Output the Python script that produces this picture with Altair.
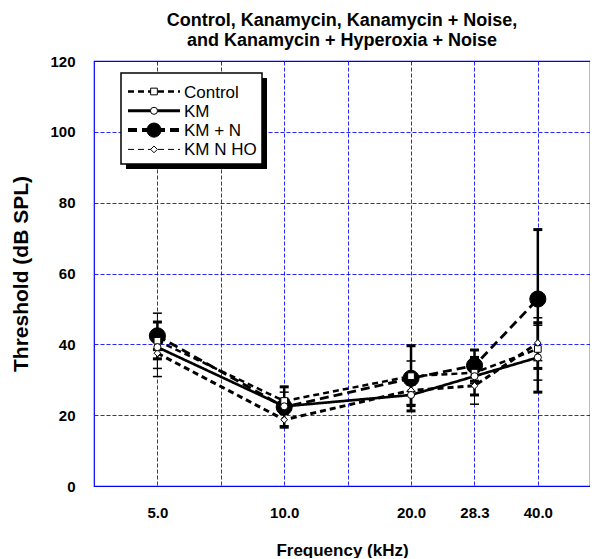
import altair as alt
import pandas as pd
import numpy as np

# ---------------- data ----------------
freqs = [5.0, 10.0, 20.0, 28.3, 40.0]
series = ["Control", "KM", "KM + N", "KM N HO"]

control = [41.0, 24.0, 31.0, 32.0, 38.7]
control_sd = [7.8, 2.5, 4.3, 3.0, 8.8]
km = [39.2, 22.5, 25.7, 31.0, 36.3]
km_sd = [3.3, 2.0, 3.0, 5.3, 9.8]
kmn = [42.4, 22.3, 30.4, 34.0, 52.8]
kmn_sd = [3.9, 5.7, 9.2, 4.4, 19.6]
kmnho = [37.5, 18.7, 27.0, 28.3, 40.4]
kmnho_sd = [6.6, 1.7, 4.0, 5.2, 5.0]

x_ticks = [5.0, 7.0711, 10.0, 14.1421, 20.0, 28.2843, 40.0]
y_ticks = [0, 20, 40, 60, 80, 100, 120]

title_lines = ["Control, Kanamycin, Kanamycin + Noise,",
               "and Kanamycin + Hyperoxia + Noise"]

# ---------------- styles ----------------
dash_range = [[6, 4], [1, 0], [9, 5], [6, 4]]
width_range = [2.5, 3.0, 4.0, 1.0]
err_width = [1.0, 2.5, 2.5, 1.0]
shape_range = ["square", "circle", "circle", "diamond"]
msize_range = [45, 50, 260, 45]
fill_range = ["white", "white", "black", "white"]

FONT = "Liberation Sans"
W, H = 496, 425

vals = [control, km, kmn, kmnho]
sds = [control_sd, km_sd, kmn_sd, kmnho_sd]
rows = []
for s, v, sd in zip(series, vals, sds):
    for f, y, e in zip(freqs, v, sd):
        rows.append({"series": s, "freq": f, "thr": y, "lo": y - e, "hi": y + e})
df = pd.DataFrame(rows)

xscale = alt.Scale(type="log", base=2, domain=[5 / np.sqrt(2), 53.2], nice=False)
yscale = alt.Scale(domain=[0, 120], nice=False)

x_enc = alt.X("freq:Q", scale=xscale,
              axis=alt.Axis(values=x_ticks, title="Frequency (kHz)",
                            labelExpr="(abs(datum.value-7.0711)<0.01 || abs(datum.value-14.1421)<0.01) ? '' : format(datum.value, '.1f')"))
y_enc = alt.Y("thr:Q", scale=yscale,
              axis=alt.Axis(values=y_ticks, title="Threshold (dB SPL)"))

dash_enc = alt.StrokeDash("series:N", scale=alt.Scale(domain=series, range=dash_range), legend=None)
width_enc = alt.StrokeWidth("series:N", scale=alt.Scale(domain=series, range=width_range), legend=None)

base = alt.Chart(df)

lines = base.mark_line(color="black").encode(
    x=x_enc, y=y_enc, strokeDash=dash_enc, strokeWidth=width_enc, detail="series:N"
)

# error bar layers per series (to control stroke width)
err_layers = []
for s, w in zip(series, err_width):
    sub = alt.Chart(df).transform_filter(alt.datum.series == s)
    err_layers.append(sub.mark_rule(color="black", strokeWidth=w).encode(
        x=alt.X("freq:Q", scale=xscale), y=alt.Y("lo:Q", scale=yscale), y2="hi:Q"))
    for end in ["lo", "hi"]:
        err_layers.append(sub.mark_rule(color="black", strokeWidth=w + 0.5, xOffset=-4.5, x2Offset=4.5).encode(
            x=alt.X("freq:Q", scale=xscale), x2="freq:Q", y=alt.Y(f"{end}:Q", scale=yscale)))

point_layers = []
for s in ["KM + N", "Control", "KM N HO", "KM"]:
    i = series.index(s)
    point_layers.append(alt.Chart(df).transform_filter(alt.datum.series == s).mark_point(
        shape=shape_range[i], size=msize_range[i], filled=True, fill=fill_range[i],
        stroke="black", strokeWidth=1, opacity=1
    ).encode(x=alt.X("freq:Q", scale=xscale), y=alt.Y("thr:Q", scale=yscale)))

# ---------------- manual legend (pixel layout) ----------------
one = pd.DataFrame({"a": [0]})
LX0, LX1, LY0, LY1 = 27, 168, 12, 103
shadow = alt.Chart(one).mark_rect(color="black").encode(
    x=alt.value(LX0 + 5), x2=alt.value(LX1 + 5), y=alt.value(LY0 + 5), y2=alt.value(LY1 + 5))
box = alt.Chart(one).mark_rect(fill="white", stroke="black", strokeWidth=1.5).encode(
    x=alt.value(LX0), x2=alt.value(LX1), y=alt.value(LY0), y2=alt.value(LY1))
leg_layers = [shadow, box]
for i, s in enumerate(series):
    ly = 30.5 + i * 19.3
    leg_layers.append(alt.Chart(one).mark_rule(color="black", strokeWidth=width_range[i],
                                               strokeDash=dash_range[i]).encode(
        x=alt.value(34), x2=alt.value(86), y=alt.value(ly)))
    leg_layers.append(alt.Chart(one).mark_point(
        shape=shape_range[i], size=msize_range[i] if i != 2 else 200, filled=True,
        fill=fill_range[i], stroke="black", strokeWidth=1, opacity=1).encode(
        x=alt.value(60), y=alt.value(ly)))
    leg_layers.append(alt.Chart(one).mark_text(
        text=s, align="left", baseline="middle", font=FONT, fontSize=17, color="black").encode(
        x=alt.value(90), y=alt.value(ly + 1)))

chart = alt.layer(lines, *err_layers, *point_layers, *leg_layers).properties(
    width=W, height=H,
    title=alt.TitleParams(title_lines, anchor="middle", font=FONT, fontSize=18,
                          fontWeight="bold", color="black", offset=4, lineHeight=20),
    padding={"left": 2, "top": 4, "right": 0, "bottom": 0},
).configure_view(stroke="#0000ff", strokeWidth=1.2).configure_axis(
    grid=True, gridColor="#0000ff", gridDash=[4, 2], gridWidth=1, gridOpacity=0.85,
    domain=False, ticks=False,
    labelFont=FONT, labelFontSize=15, labelFontWeight="bold", labelColor="black",
    titleFont=FONT, titleFontWeight="bold", titleColor="black",
).configure_axisX(
    labelPadding=19, titleFontSize=17, titlePadding=22, labelFlush=False
).configure_axisY(
    labelPadding=19, titleFontSize=21, titlePadding=18
)

chart.save("out.html", embed_options={"renderer": "svg", "actions": False})
